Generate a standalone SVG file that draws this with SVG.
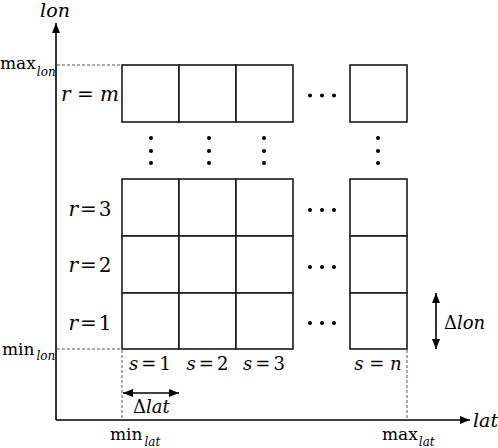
<svg xmlns="http://www.w3.org/2000/svg" width="498" height="448" viewBox="0 0 498 448">
<style>
text{font-family:"DejaVu Serif","Liberation Serif",serif;fill:#000}
.i{font-style:italic}
.cell{fill:#fff;stroke:#1a1a1a;stroke-width:1.6}
.ax{stroke:#000;stroke-width:1.6;fill:none}
.dash{stroke:#555;stroke-width:1;stroke-dasharray:3 2;fill:none}
.dot{fill:#000}
.lr{font-size:20px}
.ls{font-size:18px}
.sub{font-size:12px;font-style:italic}
</style>
<defs>
<marker id="ah" viewBox="0 0 10 8" refX="10" refY="4" markerWidth="10" markerHeight="8" markerUnits="userSpaceOnUse" orient="auto-start-reverse">
<path d="M0,0 L10,4 L0,8 Z" fill="#000"/>
</marker>
</defs>
<g id="connectors">
<line class="ax" x1="56" y1="420" x2="56" y2="23" marker-end="url(#ah)"/>
<line class="ax" x1="56" y1="420" x2="470" y2="420" marker-end="url(#ah)"/>
<line class="dash" x1="57" y1="65" x2="122" y2="65"/>
<line class="dash" x1="57" y1="349" x2="122" y2="349"/>
<line class="dash" x1="122" y1="350" x2="122" y2="419"/>
<line class="dash" x1="407" y1="350" x2="407" y2="419"/>
<line class="ax" x1="123" y1="393" x2="179" y2="393" marker-start="url(#ah)" marker-end="url(#ah)"/>
<line class="ax" x1="436" y1="293" x2="436" y2="349" marker-start="url(#ah)" marker-end="url(#ah)"/>
</g>
<g id="grid-top">
<rect class="cell" x="122" y="65" width="57" height="57"/>
<rect class="cell" x="179" y="65" width="57" height="57"/>
<rect class="cell" x="236" y="65" width="57" height="57"/>
<rect class="cell" x="350" y="65" width="57" height="57"/>
</g>
<g id="grid-bottom">
<rect class="cell" x="122" y="179" width="57" height="57"/>
<rect class="cell" x="179" y="179" width="57" height="57"/>
<rect class="cell" x="236" y="179" width="57" height="57"/>
<rect class="cell" x="350" y="179" width="57" height="57"/>
<rect class="cell" x="122" y="236" width="57" height="57"/>
<rect class="cell" x="179" y="236" width="57" height="57"/>
<rect class="cell" x="236" y="236" width="57" height="57"/>
<rect class="cell" x="350" y="236" width="57" height="57"/>
<rect class="cell" x="122" y="293" width="57" height="56"/>
<rect class="cell" x="179" y="293" width="57" height="56"/>
<rect class="cell" x="236" y="293" width="57" height="56"/>
<rect class="cell" x="350" y="293" width="57" height="56"/>
</g>
<g id="ellipses">
<circle class="dot" cx="310" cy="95.5" r="2"/><circle class="dot" cx="322" cy="95.5" r="2"/><circle class="dot" cx="334" cy="95.5" r="2"/>
<circle class="dot" cx="310" cy="210" r="2"/><circle class="dot" cx="322" cy="210" r="2"/><circle class="dot" cx="334" cy="210" r="2"/>
<circle class="dot" cx="310" cy="267" r="2"/><circle class="dot" cx="322" cy="267" r="2"/><circle class="dot" cx="334" cy="267" r="2"/>
<circle class="dot" cx="310" cy="323" r="2"/><circle class="dot" cx="322" cy="323" r="2"/><circle class="dot" cx="334" cy="323" r="2"/>
<circle class="dot" cx="151" cy="138" r="2"/><circle class="dot" cx="151" cy="151" r="2"/><circle class="dot" cx="151" cy="163" r="2"/>
<circle class="dot" cx="209" cy="138" r="2"/><circle class="dot" cx="209" cy="151" r="2"/><circle class="dot" cx="209" cy="163" r="2"/>
<circle class="dot" cx="264" cy="138" r="2"/><circle class="dot" cx="264" cy="151" r="2"/><circle class="dot" cx="264" cy="163" r="2"/>
<circle class="dot" cx="378" cy="138" r="2"/><circle class="dot" cx="378" cy="151" r="2"/><circle class="dot" cx="378" cy="163" r="2"/>
</g>
<g id="labels">
<text class="i" x="55" y="17" font-size="19" text-anchor="middle">lon</text>
<text class="i" x="473" y="427" font-size="19">lat</text>
<text x="0" y="69" font-size="17">max<tspan class="sub" dx="1" dy="7">lon</tspan></text>
<text x="2" y="355" font-size="17">min<tspan class="sub" dx="2" dy="5">lon</tspan></text>
<text x="110" y="440" font-size="17">min<tspan class="sub" dx="2" dy="6">lat</tspan></text>
<text x="382" y="440" font-size="17">max<tspan class="sub" dx="1" dy="6">lat</tspan></text>
<text class="lr" x="90" y="101" text-anchor="middle"><tspan class="i">r</tspan> = <tspan class="i">m</tspan></text>
<text class="lr" x="90" y="216" text-anchor="middle"><tspan class="i">r</tspan><tspan dx="2">=</tspan><tspan dx="2">3</tspan></text>
<text class="lr" x="90" y="272" text-anchor="middle"><tspan class="i">r</tspan><tspan dx="2">=</tspan><tspan dx="2">2</tspan></text>
<text class="lr" x="90" y="330" text-anchor="middle"><tspan class="i">r</tspan><tspan dx="2">=</tspan><tspan dx="2">1</tspan></text>
<text class="ls" x="150" y="370" text-anchor="middle"><tspan class="i">s</tspan><tspan dx="3">=</tspan><tspan dx="3">1</tspan></text>
<text class="ls" x="207.5" y="370" text-anchor="middle"><tspan class="i">s</tspan><tspan dx="3">=</tspan><tspan dx="3">2</tspan></text>
<text class="ls" x="264" y="370" text-anchor="middle"><tspan class="i">s</tspan><tspan dx="3">=</tspan><tspan dx="3">3</tspan></text>
<text class="ls" x="378" y="370" text-anchor="middle"><tspan class="i">s</tspan> = <tspan class="i">n</tspan></text>
<text x="133" y="413" font-size="18">Δ<tspan class="i">lat</tspan></text>
<text x="444" y="329" font-size="18">Δ<tspan class="i">lon</tspan></text>
</g>
</svg>
